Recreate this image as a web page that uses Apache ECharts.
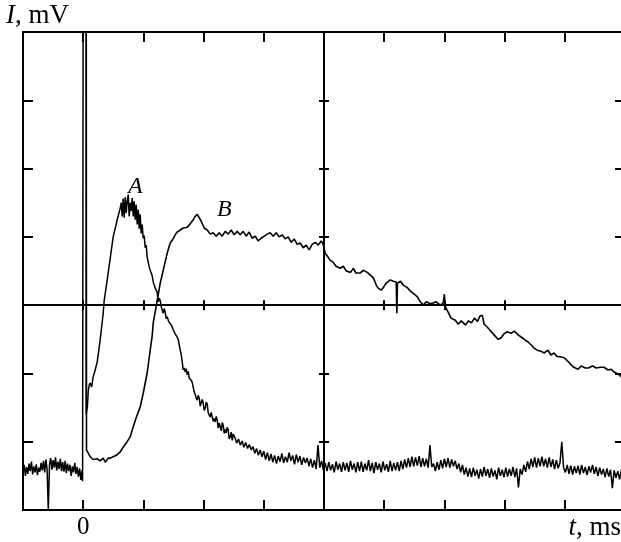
<!DOCTYPE html>
<html>
<head>
<meta charset="utf-8">
<script src="https://cdn.jsdelivr.net/npm/echarts@6/dist/echarts.min.js"></script>
<style>
html,body{margin:0;padding:0;background:#fff;}
#chart{width:621px;height:542px;}
</style>
</head>
<body>
<div id="chart"></div>
<script>
// time axis in screen divisions (0 = trigger), signal in divisions
const xRange = [-1, 9];
const yRange = [0, 7];
const xLabels = ['0'];            // only the zero tick is labelled
const yLabelText = '{i|I}, mV';
const xLabelText = '{i|t}, ms';
const seriesNames = ['A', 'B'];

// Trace A, pre-trigger noise (uniformly sampled from aPreT0 every aPreDt)
const aPreT0 = -1.00, aPreDt = 0.02;
const aPre = [
0.55,0.66,0.50,0.63,0.53,0.68,0.57,0.71,0.52,0.64,
0.55,0.67,0.51,0.62,0.56,0.69,0.58,0.72,0.55,0.74,
0.60,0.00,0.66,0.76,0.59,0.73,0.62,0.77,0.58,0.71,
0.60,0.75,0.57,0.70,0.56,0.72,0.54,0.68,0.57,0.66,
0.50,0.64,0.55,0.69,0.53,0.63,0.49,0.61,0.44,0.58
];
// Trace A, trigger spike, pulse and decay (t, I)
const aMid = [
[-0.01,0.42],[0.00,0.40],[0.00,8.00],[0.05,8.00],[0.05,1.40],[0.07,1.52],[0.085,1.75],[0.10,1.83],[0.116,1.86],[0.14,1.80],[0.166,1.95],[0.199,2.05],[0.233,2.17],[0.282,2.49],[0.332,2.88],[0.349,3.07],[0.399,3.37],[0.449,3.69],[0.498,4.00],[0.565,4.25],[0.615,4.42],
[0.632,4.50],[0.648,4.30],[0.664,4.56],[0.681,4.28],[0.698,4.58],[0.714,4.35],[0.731,4.52],[0.748,4.62],[0.764,4.30],[0.781,4.50],[0.797,4.38],[0.814,4.57],[0.831,4.30],[0.847,4.52],[0.864,4.25],[0.880,4.47],[0.897,4.18],[0.914,4.40],[0.930,4.12],[0.947,4.33],[0.963,4.05],[0.980,4.18],[0.997,3.98],[1.013,4.02],
[1.030,3.84],[1.047,3.88],[1.063,3.70],[1.080,3.72],[1.096,3.56],[1.113,3.51],[1.130,3.52],[1.146,3.43],[1.163,3.34],[1.180,3.36],[1.196,3.25],[1.213,3.26],[1.229,3.19],[1.246,3.05],[1.262,3.10],[1.279,3.07],[1.296,2.98],[1.312,2.93],[1.329,2.88],[1.345,2.95],[1.362,2.90],[1.379,2.80],[1.395,2.83],[1.420,2.76],[1.445,2.74],[1.470,2.70],[1.495,2.64],[1.511,2.66],[1.528,2.58],[1.545,2.56],[1.561,2.53],[1.578,2.50],[1.595,2.42],[1.611,2.34],[1.628,2.28],[1.645,2.17],[1.661,2.05],[1.678,2.08],[1.694,2.02],[1.711,2.07],[1.728,1.98],[1.745,2.03],[1.761,1.93],[1.777,1.95],[1.794,1.90],[1.811,1.87],[1.827,1.80],[1.844,1.73],[1.861,1.69],[1.877,1.64],[1.894,1.61],[1.910,1.68],[1.927,1.64],[1.944,1.52],[1.960,1.54],[1.977,1.62],[1.993,1.57],[2.010,1.46],[2.027,1.49],[2.043,1.58],[2.060,1.55],[2.077,1.42],[2.094,1.44],[2.110,1.36],[2.126,1.43],[2.143,1.41],[2.160,1.30],[2.176,1.34],[2.193,1.29],[2.210,1.37],[2.226,1.32],[2.243,1.20],[2.260,1.27],[2.276,1.22],[2.293,1.16],[2.310,1.28],[2.326,1.24],[2.343,1.12],[2.360,1.18],[2.375,1.13],[2.392,1.21],[2.409,1.17],[2.425,1.04],[2.442,1.07],[2.460,1.14],[2.475,1.02],[2.492,1.11]
];
// Trace A, tail noise (uniformly sampled from aTailT0 every aTailDt)
const aTailT0 = 2.52, aTailDt = 0.03;
const aTail = [
1.06,0.98,1.04,0.95,1.01,0.92,0.99,0.90,0.96,0.88,
0.93,0.83,0.90,0.80,0.88,0.78,0.86,0.74,0.84,0.72,
0.82,0.70,0.80,0.68,0.79,0.71,0.83,0.69,0.78,0.70,
0.84,0.72,0.80,0.67,0.81,0.70,0.79,0.66,0.77,0.69,
0.76,0.64,0.75,0.62,0.73,0.60,0.95,0.62,0.72,0.58,
0.69,0.57,0.70,0.58,0.67,0.55,0.71,0.59,0.68,0.56,
0.70,0.58,0.69,0.56,0.72,0.59,0.68,0.55,0.70,0.57,
0.71,0.56,0.68,0.58,0.73,0.57,0.69,0.54,0.70,0.59,
0.68,0.55,0.71,0.58,0.67,0.56,0.72,0.57,0.69,0.58,
0.70,0.57,0.72,0.60,0.74,0.62,0.76,0.63,0.78,0.64,
0.77,0.65,0.79,0.63,0.76,0.64,0.75,0.62,0.95,0.63,
0.68,0.57,0.70,0.59,0.73,0.61,0.75,0.63,0.76,0.62,
0.74,0.64,0.72,0.60,0.68,0.55,0.66,0.52,0.62,0.49,
0.61,0.48,0.62,0.50,0.59,0.46,0.60,0.49,0.63,0.50,
0.60,0.47,0.61,0.49,0.58,0.45,0.62,0.50,0.59,0.48,
0.62,0.49,0.60,0.50,0.63,0.48,0.61,0.33,0.60,0.52,
0.66,0.56,0.71,0.60,0.75,0.63,0.77,0.62,0.76,0.64,
0.78,0.64,0.75,0.62,0.77,0.63,0.74,0.60,0.73,0.61,
0.69,1.00,0.62,0.55,0.66,0.53,0.65,0.52,0.64,0.54,
0.65,0.52,0.66,0.54,0.63,0.51,0.64,0.55,0.66,0.53,
0.63,0.50,0.62,0.52,0.60,0.48,0.61,0.49,0.59,0.32,
0.58,0.47,0.57,0.45,0.59,0.48,0.52
];

// Trace B (t, I)
const curveB = [
[0.05,8.00],[0.055,0.88],[0.116,0.78],[0.166,0.74],[0.233,0.75],[0.282,0.72],[0.332,0.76],[0.365,0.70],[0.415,0.76],[0.449,0.76],[0.498,0.78],[0.565,0.81],[0.615,0.85],[0.664,0.92],[0.714,0.98],[0.781,1.07],[0.831,1.22],[0.880,1.35],[0.947,1.51],[0.997,1.71],[1.030,1.86],[1.063,2.01],[1.113,2.34],[1.146,2.55],[1.163,2.74],[1.196,2.90],[1.229,3.07],[1.279,3.32],[1.329,3.51],[1.395,3.76],[1.445,3.91],[1.478,3.95],[1.528,4.03],[1.561,4.07],[1.611,4.10],[1.661,4.13],[1.728,4.14],[1.777,4.19],[1.827,4.25],[1.860,4.30],[1.894,4.33],[1.927,4.28],[1.960,4.23],[2.010,4.13],[2.060,4.10],[2.110,4.04],[2.159,4.06],[2.209,4.01],[2.259,4.06],[2.309,4.01],[2.359,4.08],[2.409,4.04],[2.458,4.10],[2.508,4.03],[2.558,4.08],[2.608,4.03],[2.658,4.08],[2.708,4.01],[2.757,4.07],[2.807,3.98],[2.857,4.01],[2.907,3.94],[2.957,3.98],[3.007,4.01],[3.056,4.04],[3.106,4.06],[3.156,4.01],[3.206,4.06],[3.256,4.00],[3.306,4.03],[3.355,3.97],[3.405,4.00],[3.455,3.92],[3.505,3.97],[3.555,3.89],[3.605,3.91],[3.654,3.84],[3.704,3.88],[3.754,3.81],[3.804,3.89],[3.854,3.92],[3.904,3.88],[3.953,3.94],[3.987,3.89],[4.02,3.76],[4.07,3.70],[4.10,3.66],[4.15,3.63],[4.20,3.57],[4.27,3.54],[4.32,3.57],[4.37,3.50],[4.44,3.48],[4.49,3.54],[4.53,3.47],[4.60,3.47],[4.65,3.51],[4.72,3.48],[4.77,3.44],[4.82,3.40],[4.87,3.29],[4.90,3.25],[4.95,3.22],[4.98,3.25],[5.03,3.32],[5.10,3.37],[5.15,3.35],[5.20,3.34],[5.21,2.88],[5.22,3.32],[5.27,3.35],[5.32,3.29],[5.38,3.26],[5.43,3.21],[5.50,3.16],[5.55,3.12],[5.60,3.05],[5.65,3.00],[5.70,3.05],[5.76,3.02],[5.81,3.03],[5.86,3.05],[5.93,3.00],[5.98,3.03],[6.00,3.16],[6.01,2.99],[6.06,2.90],[6.11,2.81],[6.18,2.78],[6.23,2.72],[6.28,2.77],[6.35,2.71],[6.40,2.77],[6.45,2.74],[6.50,2.81],[6.55,2.76],[6.59,2.84],[6.63,2.85],[6.66,2.72],[6.71,2.68],[6.78,2.61],[6.84,2.55],[6.89,2.50],[6.94,2.52],[6.99,2.58],[7.04,2.61],[7.11,2.59],[7.16,2.62],[7.23,2.56],[7.28,2.53],[7.34,2.49],[7.39,2.46],[7.44,2.42],[7.49,2.37],[7.54,2.34],[7.59,2.33],[7.66,2.30],[7.72,2.34],[7.77,2.27],[7.82,2.30],[7.87,2.25],[7.94,2.24],[7.99,2.23],[8.06,2.17],[8.11,2.12],[8.15,2.09],[8.22,2.06],[8.27,2.11],[8.34,2.08],[8.39,2.08],[8.46,2.11],[8.52,2.08],[8.59,2.09],[8.65,2.09],[8.72,2.05],[8.77,2.06],[8.82,2.02],[8.89,1.99],[8.94,1.95],[9.00,1.93]
];

function sampled(t0, dt, ys) {
  return ys.map((y, i) => [+(t0 + i * dt).toFixed(3), y]);
}
const curveA = sampled(aPreT0, aPreDt, aPre).concat(aMid, sampled(aTailT0, aTailDt, aTail));

const FONT = 'Liberation Serif';
const chart = echarts.init(document.getElementById('chart'), null, {renderer: 'canvas'});

const lineStyle = {color: '#000', width: 2};
function frameAxis(extra) {
  return Object.assign({
    type: 'value', min: xRange[0], max: xRange[1], interval: 1,
    axisLine: {show: true, onZero: false, lineStyle: lineStyle},
    axisTick: {show: true, inside: true, length: 10, lineStyle: {color: '#000', width: 2}},
    axisLabel: {show: false},
    splitLine: {show: false}
  }, extra);
}
function centreLine(inside) {
  return {show: true, inside: inside, length: 5, lineStyle: {color: '#000', width: 2}};
}

const option = {
  animation: false,
  backgroundColor: '#fff',
  grid: {left: 23, top: 32, width: 602, height: 478, outerBoundsMode: 'none', containLabel: false},
  xAxis: [
    frameAxis({position: 'bottom',
      axisLabel: {show: true, margin: 5, color: '#000', fontFamily: FONT, fontSize: 25,
        formatter: v => (v === 0 ? xLabels[0] : '')}}),
    frameAxis({position: 'top'}),
    frameAxis({position: 'bottom', axisLine: {show: true, onZero: true, onZeroAxisIndex: 4, lineStyle: lineStyle},
      axisTick: centreLine(true)}),
    frameAxis({position: 'bottom', axisLine: {show: true, onZero: true, onZeroAxisIndex: 4, lineStyle: lineStyle},
      axisTick: centreLine(false)}),
    {type: 'value', min: -5, max: 5, show: false, axisLine: {onZero: false}}
  ],
  yAxis: [
    frameAxis({min: yRange[0], max: yRange[1], position: 'left'}),
    frameAxis({min: yRange[0], max: yRange[1], position: 'right'}),
    frameAxis({min: yRange[0], max: yRange[1], position: 'left',
      axisLine: {show: true, onZero: true, onZeroAxisIndex: 4, lineStyle: lineStyle},
      axisTick: centreLine(true)}),
    frameAxis({min: yRange[0], max: yRange[1], position: 'left',
      axisLine: {show: true, onZero: true, onZeroAxisIndex: 4, lineStyle: lineStyle},
      axisTick: centreLine(false)}),
    {type: 'value', min: -3, max: 4, show: false, axisLine: {onZero: false}}
  ],
  series: [
    {name: seriesNames[0], type: 'line', data: curveA, xAxisIndex: 0, yAxisIndex: 0,
      showSymbol: false, symbol: 'none', clip: true,
      lineStyle: {color: '#000', width: 1.5}},
    {name: seriesNames[1], type: 'line', data: curveB, xAxisIndex: 0, yAxisIndex: 0,
      showSymbol: false, symbol: 'none', clip: true,
      lineStyle: {color: '#000', width: 1.6}}
  ],
  graphic: [
    {type: 'text', left: 6, top: 2, z: 100,
      style: {text: yLabelText, fill: '#000', fontFamily: FONT, fontSize: 27,
        rich: {i: {fontStyle: 'italic', fontFamily: FONT, fontSize: 27, fill: '#000'}}}},
    {type: 'text', right: 0, top: 514, z: 100,
      style: {text: xLabelText, fill: '#000', fontFamily: FONT, fontSize: 27,
        rich: {i: {fontStyle: 'italic', fontFamily: FONT, fontSize: 27, fill: '#000'}}}},
    {type: 'text', left: 128, top: 175, z: 100,
      style: {text: seriesNames[0], fill: '#000', fontFamily: FONT, fontSize: 24, fontStyle: 'italic'}},
    {type: 'text', left: 217, top: 198, z: 100,
      style: {text: seriesNames[1], fill: '#000', fontFamily: FONT, fontSize: 24, fontStyle: 'italic'}}
  ]
};
chart.setOption(option);
</script>
</body>
</html>
